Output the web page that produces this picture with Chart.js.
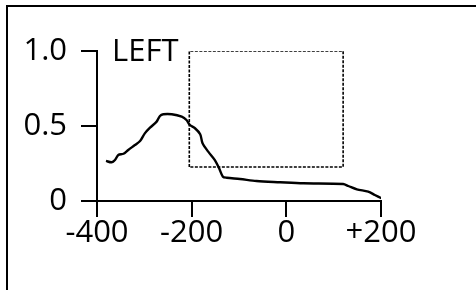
<!DOCTYPE html>
<html>
<head>
<meta charset="utf-8">
<script src="https://cdn.jsdelivr.net/npm/chart.js@4"></script>
<style>
  html, body { margin: 0; padding: 0; background: #fff; overflow: hidden; }
  #frame { position: absolute; left: 6px; top: 5px; width: 520px; height: 340px; border: 2.5px solid #000; }
  #wrap { position: absolute; left: 0; top: 0; width: 476px; height: 290px; }
</style>
</head>
<body>
<div id="frame"></div>
<div id="wrap"><canvas id="c" width="476" height="290"></canvas></div>
<script>
// curve
var curveX = [-381, -369, -362, -355, -344, -334, -320, -309, -299, -288, -274, -267, -260, -242, -221, -211, -204, -193, -182, -177, -165, -151, -142, -134, -126, -98, -63, -13, 36, 120, 131, 149, 173, 187, 201];
var curveY = [0.267, 0.258, 0.273, 0.307, 0.315, 0.34, 0.373, 0.40, 0.451, 0.489, 0.529, 0.567, 0.578, 0.578, 0.562, 0.54, 0.507, 0.485, 0.445, 0.385, 0.329, 0.273, 0.218, 0.162, 0.155, 0.147, 0.133, 0.125, 0.118, 0.113, 0.10, 0.078, 0.062, 0.04, 0.018];

// dashed selection box
var boxX = [-205, -205, 120, 120, -205];
var boxY = [0.227, 1.0, 1.0, 0.227, 0.227];

var xTicks = [-400, -200, 0, 200];
var xTickLabels = ['-400', '-200', '0', '+200'];
var yTicks = [0, 0.5, 1.0];
var yTickLabels = ['0', '0.5', '1.0'];
var seriesLabel = 'LEFT';

var FONT = { family: "'Open Sans', 'Noto Sans', sans-serif", size: 31 };

function pts(xs, ys) {
  return xs.map(function (x, i) { return { x: x, y: ys[i] }; });
}

var leftLabel = {
  id: 'leftLabel',
  afterDraw: function (chart) {
    var c = chart.ctx;
    var ys = chart.scales.y;
    c.save();
    c.font = FONT.size + 'px ' + FONT.family;
    c.fillStyle = '#000';
    c.textAlign = 'left';
    c.textBaseline = 'middle';
    c.fillText(seriesLabel, chart.chartArea.left + 15, ys.getPixelForValue(1.0) + 1);
    c.restore();
  }
};

new Chart(document.getElementById('c'), {
  type: 'scatter',
  data: {
    datasets: [
      {
        data: pts(boxX, boxY),
        showLine: true,
        borderColor: '#000',
        borderWidth: 1.6,
        borderDash: [3, 1.5],
        pointRadius: 0,
        tension: 0
      },
      {
        data: pts(curveX, curveY),
        showLine: true,
        borderColor: '#000',
        borderWidth: 2.4,
        pointRadius: 0,
        tension: 0.3
      }
    ]
  },
  options: {
    responsive: false,
    animation: false,
    layout: { padding: { top: 51, right: 95, left: 0, bottom: 0 } },
    plugins: { legend: { display: false }, tooltip: { enabled: false } },
    scales: {
      x: {
        type: 'linear',
        min: -400,
        max: 200,
        afterBuildTicks: function (s) {
          s.ticks = xTicks.map(function (v) { return { value: v }; });
        },
        afterFit: function (s) { s.height = 89; },
        border: { display: true, color: '#000', width: 2 },
        grid: { drawOnChartArea: false, drawTicks: true, tickLength: 16, color: '#000', lineWidth: 2 },
        ticks: {
          color: '#000',
          font: FONT,
          padding: -2,
          maxRotation: 0,
          callback: function (v, i) { return xTickLabels[i]; }
        }
      },
      y: {
        type: 'linear',
        min: 0,
        max: 1.0,
        afterBuildTicks: function (s) {
          s.ticks = yTicks.map(function (v) { return { value: v }; });
        },
        afterFit: function (s) { s.width = 97; },
        border: { display: true, color: '#000', width: 2 },
        grid: { drawOnChartArea: false, drawTicks: true, tickLength: 16, color: '#000', lineWidth: 2 },
        ticks: {
          color: '#000',
          font: FONT,
          padding: 14,
          callback: function (v, i) { return yTickLabels[i]; }
        }
      }
    }
  },
  plugins: [leftLabel]
});
</script>
</body>
</html>
